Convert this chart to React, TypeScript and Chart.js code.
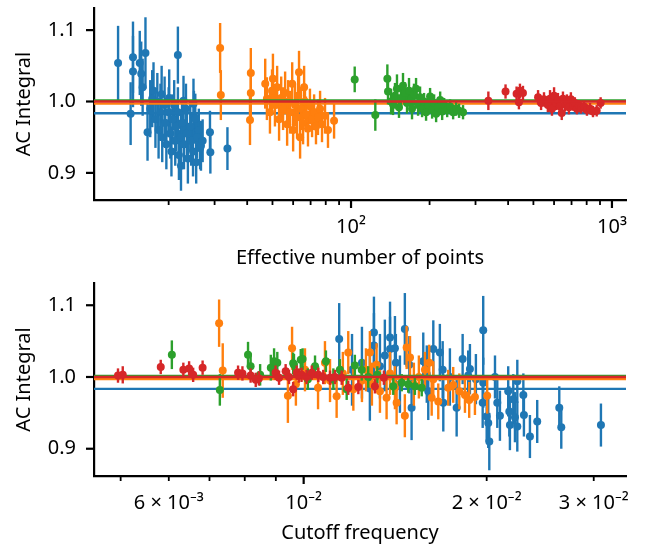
import React, { useEffect, useRef } from "react";
import { Chart, registerables } from "chart.js";
Chart.register(...registerables);

const FONT = "'Noto Sans', sans-serif";
const FONT_SIZE = 20;
const SERIES_COLORS = ["#1f77b4", "#ff7f0e", "#2ca02c", "#d62728"];
// mean level line for each series (blue, orange, green, red)
const MEAN_LEVELS = [0.9835, 0.997, 1.0015, 1.0];

const Y_RANGE = [0.862, 1.131];
const Y_TICKS = [0.9, 1.0, 1.1];
const Y_TICK_LABELS = ["0.9", "1.0", "1.1"];

const TOP_X_RANGE = [10.35, 1132];
const TOP_X_TICKS = [20, 30, 40, 50, 60, 70, 80, 90, 100, 200, 300, 400, 500, 600, 700, 800, 900, 1000];
const TOP_X_TICK_LABELS = ["", "", "", "", "", "", "", "", "10²", "", "", "", "", "", "", "", "", "10³"];
const TOP_X_MAJOR = [100, 1000];

const BOT_X_RANGE = [4.52e-3, 3.39e-2];
const BOT_X_TICKS = [0.005, 0.006, 0.007, 0.008, 0.009, 0.01, 0.02, 0.03];
const BOT_X_TICK_LABELS = ["", "6 × 10⁻³", "", "", "", "10⁻²", "2 × 10⁻²", "3 × 10⁻²"];
const BOT_X_MAJOR = [0.01];

// [effective number of points, AC integral, error]
const topBlue = [
  [12.8, 1.054, 0.052], [14.3, 0.983, 0.044], [14.6, 1.062, 0.05], [14.6, 1.042, 0.05],
  [15.5, 1.054, 0.045], [15.7, 1.039, 0.045], [15.9, 1.02, 0.04], [16.3, 1.068, 0.05],
  [16.6, 0.957, 0.04], [17.0, 0.99, 0.04], [17.3, 1.004, 0.04], [17.5, 1.015, 0.04],
  [17.8, 0.975, 0.04], [18.1, 1.0, 0.04], [18.3, 0.96, 0.04], [18.6, 0.985, 0.04],
  [18.8, 1.01, 0.04], [18.9, 0.95, 0.035], [19.3, 0.995, 0.04], [19.4, 0.97, 0.035],
  [19.6, 0.94, 0.035], [20.0, 0.985, 0.035], [20.1, 1.005, 0.04], [20.3, 0.955, 0.035],
  [20.5, 0.93, 0.035], [20.7, 0.975, 0.035], [21.0, 0.995, 0.035], [21.2, 0.945, 0.035],
  [21.4, 0.965, 0.035], [21.7, 1.065, 0.04], [21.7, 0.985, 0.035], [21.9, 0.925, 0.035],
  [22.3, 0.91, 0.035], [22.3, 0.95, 0.035], [22.5, 0.97, 0.035], [22.8, 1.001, 0.035],
  [22.9, 0.94, 0.035], [23.3, 0.99, 0.035], [23.5, 0.955, 0.035], [23.7, 0.92, 0.035],
  [24.2, 0.965, 0.035], [24.4, 0.945, 0.035], [24.8, 0.93, 0.035], [24.9, 0.997, 0.035],
  [25.0, 0.98, 0.035], [25.3, 0.976, 0.035], [25.5, 0.915, 0.03], [25.7, 0.95, 0.03],
  [26.1, 0.96, 0.03], [26.4, 0.935, 0.03], [26.6, 0.938, 0.035], [27.0, 0.945, 0.03],
  [28.8, 0.957, 0.03], [28.9, 0.929, 0.03], [33.6, 0.934, 0.03],
];
const topOrange = [
  [31.5, 1.075, 0.035], [31.7, 1.009, 0.035], [41.0, 0.974, 0.035], [41.3, 1.04, 0.035],
  [41.3, 1.012, 0.035], [46.9, 1.025, 0.035], [47.6, 1.004, 0.03], [48.9, 0.985, 0.03],
  [49.8, 1.015, 0.03], [50.2, 1.032, 0.035], [51.1, 0.995, 0.03], [52.1, 1.02, 0.03],
  [53.0, 0.975, 0.03], [54.0, 1.005, 0.03], [54.9, 0.99, 0.03], [55.9, 1.012, 0.03],
  [56.9, 0.968, 0.03], [57.4, 1.0, 0.03], [58.4, 0.985, 0.03], [59.5, 1.025, 0.03],
  [60.0, 0.96, 0.03], [61.0, 0.995, 0.03], [62.1, 0.978, 0.03], [62.7, 1.008, 0.03],
  [63.2, 1.041, 0.03], [63.8, 0.95, 0.03], [64.3, 0.99, 0.03], [65.5, 0.97, 0.03],
  [66.1, 1.02, 0.03], [66.6, 1.0, 0.025], [67.2, 0.982, 0.025], [68.4, 0.962, 0.025],
  [69.6, 0.993, 0.025], [70.9, 0.975, 0.025], [72.2, 0.985, 0.025], [73.4, 0.965, 0.025],
  [74.7, 0.978, 0.025], [76.1, 0.99, 0.025], [77.4, 0.968, 0.025], [79.5, 0.98, 0.025],
  [81.6, 0.96, 0.025], [86.1, 0.973, 0.025],
];
const topGreen = [
  [103.3, 1.031, 0.018], [123.9, 0.981, 0.022], [137.8, 1.032, 0.02], [138.6, 1.014, 0.018],
  [142.4, 1.0, 0.018], [144.9, 0.996, 0.015], [147.4, 1.008, 0.018], [150.0, 1.018, 0.02],
  [152.7, 0.992, 0.015], [155.4, 1.005, 0.015], [158.2, 1.022, 0.018], [161.0, 1.012, 0.015],
  [163.9, 0.998, 0.015], [166.8, 1.015, 0.018], [169.8, 1.003, 0.015], [171.3, 0.99, 0.015],
  [174.3, 1.01, 0.015], [177.5, 1.018, 0.015], [180.7, 0.995, 0.015], [183.9, 1.006, 0.015],
  [187.2, 0.99, 0.012], [190.5, 1.0, 0.012], [193.9, 0.985, 0.012], [197.4, 0.995, 0.012],
  [200.9, 1.007, 0.012], [204.5, 0.988, 0.012], [208.2, 0.998, 0.012], [211.9, 0.983, 0.012],
  [215.7, 0.992, 0.012], [219.6, 1.002, 0.012], [223.5, 0.986, 0.012], [227.5, 0.995, 0.01],
  [233.6, 0.988, 0.01], [239.8, 0.993, 0.01], [246.2, 0.985, 0.01], [252.8, 0.99, 0.01],
  [259.5, 0.987, 0.01], [268.7, 0.985, 0.01],
];
const topRed = [
  [336, 1.001, 0.013], [391, 1.014, 0.01], [431, 1.011, 0.01], [440, 0.999, 0.01],
  [444, 1.015, 0.01], [456, 1.012, 0.01], [521, 1.006, 0.01], [535, 0.998, 0.01],
  [549, 1.003, 0.01], [568, 0.995, 0.01], [579, 1.004, 0.012], [589, 0.99, 0.01],
  [600, 1.008, 0.012], [610, 0.998, 0.01], [621, 1.002, 0.01], [632, 0.993, 0.01],
  [642, 0.984, 0.01], [649, 1.004, 0.01], [661, 0.996, 0.01], [672, 1.0, 0.01],
  [684, 0.992, 0.01], [696, 1.003, 0.01], [709, 0.995, 0.008], [721, 0.998, 0.008],
  [734, 0.99, 0.008], [747, 0.994, 0.008], [761, 0.991, 0.008], [781, 0.993, 0.008],
  [802, 0.988, 0.008], [824, 0.99, 0.008], [846, 0.986, 0.008], [874, 0.987, 0.008],
  [905, 0.998, 0.008],
];

// [cutoff frequency, AC integral, error]
const botBlue = [
  [1.144e-2, 1.053, 0.05], [1.201e-2, 1.01, 0.05], [1.247e-2, 1.02, 0.05], [1.285e-2, 0.984, 0.045],
  [1.305e-2, 1.062, 0.05], [1.305e-2, 1.044, 0.045], [1.335e-2, 1.015, 0.045], [1.36e-2, 1.03, 0.05],
  [1.387e-2, 1.055, 0.05], [1.387e-2, 1.039, 0.045], [1.413e-2, 1.04, 0.045], [1.418e-2, 1.02, 0.04],
  [1.44e-2, 0.99, 0.04], [1.467e-2, 1.067, 0.05], [1.492e-2, 1.017, 0.04], [1.505e-2, 0.957, 0.045],
  [1.573e-2, 1.022, 0.04], [1.594e-2, 1.004, 0.04], [1.603e-2, 0.98, 0.04], [1.634e-2, 1.039, 0.04],
  [1.675e-2, 1.034, 0.04], [1.693e-2, 1.01, 0.04], [1.697e-2, 0.964, 0.04], [1.74e-2, 1.0, 0.04],
  [1.785e-2, 0.957, 0.04], [1.826e-2, 1.025, 0.035], [1.865e-2, 1.002, 0.035], [1.877e-2, 1.011, 0.035],
  [1.92e-2, 0.997, 0.035], [1.97e-2, 0.964, 0.035], [1.974e-2, 1.065, 0.048], [1.974e-2, 0.992, 0.035],
  [2.0e-2, 0.945, 0.035], [2.012e-2, 0.936, 0.035], [2.02e-2, 0.91, 0.04], [2.064e-2, 1.0, 0.03],
  [2.082e-2, 0.964, 0.035], [2.103e-2, 0.946, 0.035], [2.17e-2, 0.98, 0.035], [2.179e-2, 0.952, 0.035],
  [2.184e-2, 0.933, 0.035], [2.212e-2, 0.969, 0.035], [2.226e-2, 0.944, 0.035], [2.246e-2, 0.994, 0.03],
  [2.246e-2, 0.931, 0.035], [2.298e-2, 0.975, 0.03], [2.303e-2, 0.947, 0.03], [2.356e-2, 0.917, 0.03],
  [2.422e-2, 0.938, 0.03], [2.633e-2, 0.957, 0.03], [2.653e-2, 0.93, 0.03], [3.083e-2, 0.933, 0.03],
];
const botOrange = [
  [7.26e-3, 1.075, 0.033], [7.36e-3, 1.009, 0.038], [9.42e-3, 0.974, 0.038], [9.57e-3, 1.04, 0.03],
  [9.71e-3, 0.99, 0.03], [1.005e-2, 1.01, 0.03], [1.056e-2, 0.985, 0.03], [1.084e-2, 1.02, 0.03],
  [1.105e-2, 0.995, 0.03], [1.133e-2, 0.973, 0.03], [1.16e-2, 1.005, 0.03], [1.184e-2, 1.034, 0.03],
  [1.207e-2, 0.983, 0.03], [1.247e-2, 0.995, 0.03], [1.266e-2, 1.01, 0.03], [1.285e-2, 1.034, 0.03],
  [1.295e-2, 0.99, 0.03], [1.318e-2, 1.017, 0.03], [1.335e-2, 0.98, 0.03], [1.369e-2, 0.971, 0.03],
  [1.387e-2, 1.005, 0.03], [1.413e-2, 0.985, 0.03], [1.422e-2, 0.964, 0.03], [1.467e-2, 0.946, 0.03],
  [1.477e-2, 1.041, 0.03], [1.496e-2, 1.027, 0.03], [1.518e-2, 0.99, 0.03], [1.547e-2, 1.0, 0.03],
  [1.583e-2, 1.01, 0.025], [1.609e-2, 1.02, 0.025], [1.624e-2, 0.971, 0.025], [1.634e-2, 0.997, 0.025],
  [1.665e-2, 0.966, 0.025], [1.729e-2, 0.985, 0.025], [1.762e-2, 0.989, 0.025], [1.803e-2, 0.98, 0.025],
  [1.842e-2, 0.975, 0.025], [1.872e-2, 0.968, 0.025], [1.913e-2, 0.972, 0.025], [2.004e-2, 0.974, 0.025],
];
const botGreen = [
  [6.07e-3, 1.031, 0.02], [7.28e-3, 0.982, 0.022], [8.1e-3, 1.031, 0.018], [8.18e-3, 1.015, 0.018],
  [8.48e-3, 1.003, 0.015], [8.83e-3, 1.013, 0.018], [8.94e-3, 1.022, 0.018], [9.05e-3, 1.02, 0.015],
  [9.61e-3, 1.019, 0.015], [9.64e-3, 1.017, 0.015], [9.89e-3, 1.024, 0.015], [9.96e-3, 1.025, 0.015],
  [1.016e-2, 0.997, 0.015], [1.044e-2, 1.015, 0.015], [1.088e-2, 1.022, 0.015], [1.119e-2, 0.997, 0.015],
  [1.147e-2, 1.01, 0.015], [1.177e-2, 0.983, 0.015], [1.214e-2, 1.016, 0.015], [1.246e-2, 1.01, 0.015],
  [1.277e-2, 1.0, 0.015], [1.322e-2, 1.003, 0.012], [1.404e-2, 0.987, 0.012], [1.45e-2, 0.992, 0.012],
  [1.486e-2, 0.99, 0.012], [1.524e-2, 0.987, 0.012], [1.564e-2, 0.985, 0.012],
];
const botRed = [
  [4.95e-3, 1.002, 0.01], [5.04e-3, 1.003, 0.012], [5.82e-3, 1.014, 0.01], [6.34e-3, 1.01, 0.01],
  [6.48e-3, 1.012, 0.01], [6.58e-3, 1.003, 0.01], [6.82e-3, 1.013, 0.01], [7.8e-3, 1.006, 0.01],
  [7.93e-3, 1.005, 0.01], [8.18e-3, 1.002, 0.01], [8.34e-3, 0.996, 0.01], [8.44e-3, 0.998, 0.01],
  [8.99e-3, 1.006, 0.01], [9.11e-3, 0.999, 0.01], [9.34e-3, 1.008, 0.01], [9.46e-3, 1.0, 0.01],
  [9.61e-3, 0.983, 0.01], [9.74e-3, 1.006, 0.01], [9.82e-3, 1.002, 0.01], [9.92e-3, 1.003, 0.01],
  [1.011e-2, 1.0, 0.01], [1.031e-2, 1.006, 0.01], [1.057e-2, 1.003, 0.01], [1.077e-2, 1.0, 0.01],
  [1.105e-2, 0.999, 0.01], [1.126e-2, 1.0, 0.01], [1.155e-2, 0.999, 0.01], [1.184e-2, 0.985, 0.01],
  [1.23e-2, 0.986, 0.01], [1.31e-2, 0.987, 0.01], [1.355e-2, 0.999, 0.01],
];

const errorBarPlugin = {
  id: "errorBars",
  beforeDatasetDraw(chart: any, args: any) {
    const ds = chart.data.datasets[args.index];
    if (!ds.errs) return;
    const { ctx, chartArea } = chart;
    const xs = chart.scales.x;
    const ys = chart.scales.y;
    ctx.save();
    ctx.beginPath();
    ctx.rect(chartArea.left, chartArea.top, chartArea.right - chartArea.left, chartArea.bottom - chartArea.top);
    ctx.clip();
    ctx.strokeStyle = ds.borderColor;
    ctx.lineWidth = 2.4;
    ds.data.forEach((p: any, i: number) => {
      const px = xs.getPixelForValue(p.x);
      ctx.beginPath();
      ctx.moveTo(px, ys.getPixelForValue(p.y - ds.errs[i]));
      ctx.lineTo(px, ys.getPixelForValue(p.y + ds.errs[i]));
      ctx.stroke();
    });
    ctx.restore();
  },
};

const tickMarksPlugin = {
  id: "tickMarks",
  afterDraw(chart: any, _a: any, opts: any) {
    const { ctx, chartArea } = chart;
    const xs = chart.scales.x;
    const ys = chart.scales.y;
    ctx.save();
    ctx.strokeStyle = "#000";
    (opts.xTicks as number[]).forEach((v) => {
      const px = xs.getPixelForValue(v);
      const major = (opts.xMajor as number[]).includes(v);
      ctx.lineWidth = major ? 2.2 : 1.8;
      ctx.beginPath();
      ctx.moveTo(px, chartArea.bottom);
      ctx.lineTo(px, chartArea.bottom + (major ? 8 : 5));
      ctx.stroke();
    });
    ctx.lineWidth = 2.2;
    Y_TICKS.forEach((v) => {
      const py = ys.getPixelForValue(v);
      ctx.beginPath();
      ctx.moveTo(chartArea.left, py);
      ctx.lineTo(chartArea.left - 8, py);
      ctx.stroke();
    });
    ctx.restore();
  },
};

function buildConfig(p: any) {
  const datasets: any[] = [];
  const n = p.series.length;
  p.series.forEach((pts: number[][], i: number) => {
    const color = SERIES_COLORS[i];
    datasets.push({
      type: "scatter",
      data: pts.map((d) => ({ x: d[0], y: d[1] })),
      errs: pts.map((d) => d[2]),
      backgroundColor: color,
      borderColor: color,
      pointRadius: 4,
      pointHoverRadius: 4,
      pointBorderWidth: 0,
      order: 2 * (n - i),
    });
    datasets.push({
      type: "line",
      data: [
        { x: p.xRange[0], y: MEAN_LEVELS[i] },
        { x: p.xRange[1], y: MEAN_LEVELS[i] },
      ],
      borderColor: color,
      borderWidth: 2.4,
      pointRadius: 0,
      showLine: true,
      order: 2 * (n - i) - 1,
    });
  });
  return {
    type: "scatter",
    data: { datasets },
    plugins: [errorBarPlugin, tickMarksPlugin],
    options: {
      animation: false,
      responsive: false,
      devicePixelRatio: 1,
      events: [],
      layout: { padding: { left: 0, right: 20, top: p.padTop, bottom: 0 } },
      plugins: {
        legend: { display: false },
        tooltip: { enabled: false },
        tickMarks: { xTicks: p.xTicks, xMajor: p.xMajor },
      },
      scales: {
        x: {
          type: "logarithmic",
          min: p.xRange[0],
          max: p.xRange[1],
          afterBuildTicks: (s: any) => {
            s.ticks = p.xTicks.map((v: number) => ({ value: v }));
          },
          afterFit: (s: any) => {
            s.height = p.xHeight;
            s.paddingLeft = 0;
            s.paddingRight = 0;
          },
          grid: { display: false, drawTicks: true, tickLength: 8 },
          border: { display: true, color: "#000", width: 2.2 },
          ticks: {
            autoSkip: false,
            maxRotation: 0,
            padding: 7,
            color: "#000",
            font: { family: FONT, size: FONT_SIZE },
            callback: (_v: any, i: number) => p.xTickLabels[i],
          },
          title: {
            display: true,
            text: p.xTitle,
            color: "#000",
            font: { family: FONT, size: FONT_SIZE },
            padding: { top: 0, bottom: p.titlePadBottom },
          },
        },
        y: {
          type: "linear",
          min: Y_RANGE[0],
          max: Y_RANGE[1],
          afterBuildTicks: (s: any) => {
            s.ticks = Y_TICKS.map((v) => ({ value: v }));
          },
          afterFit: (s: any) => {
            s.width = 94;
            s.paddingTop = 0;
            s.paddingBottom = 0;
          },
          grid: { display: false, drawTicks: true, tickLength: 8 },
          border: { display: true, color: "#000", width: 2.2 },
          ticks: {
            padding: 10,
            color: "#000",
            font: { family: FONT, size: FONT_SIZE },
            callback: (_v: any, i: number) => Y_TICK_LABELS[i],
          },
          title: {
            display: true,
            text: "AC Integral",
            color: "#000",
            font: { family: FONT, size: FONT_SIZE },
            padding: { top: 12, bottom: 0 },
          },
        },
      },
    },
  };
}

function Panel(props: { height: number; cfg: any }) {
  const ref = useRef<HTMLCanvasElement | null>(null);
  useEffect(() => {
    if (!ref.current) return;
    const chart = new Chart(ref.current, buildConfig(props.cfg) as any);
    return () => chart.destroy();
  }, []);
  return (
    <canvas
      ref={ref}
      width={646}
      height={props.height}
      style={{ display: "block", width: 646, height: props.height }}
    />
  );
}

export default function App() {
  return (
    <div style={{ position: "fixed", left: 0, top: 0, width: 646, height: 545, background: "#fff" }}>
      <Panel
        height={272}
        cfg={{
          series: [topBlue, topOrange, topGreen, topRed],
          xRange: TOP_X_RANGE,
          xTicks: TOP_X_TICKS,
          xTickLabels: TOP_X_TICK_LABELS,
          xMajor: TOP_X_MAJOR,
          xTitle: "Effective number of points",
          xHeight: 72,
          padTop: 8,
          titlePadBottom: 2,
        }}
      />
      <Panel
        height={273}
        cfg={{
          series: [botBlue, botOrange, botGreen, botRed],
          xRange: BOT_X_RANGE,
          xTicks: BOT_X_TICKS,
          xTickLabels: BOT_X_TICK_LABELS,
          xMajor: BOT_X_MAJOR,
          xTitle: "Cutoff frequency",
          xHeight: 69,
          padTop: 11,
          titlePadBottom: 0,
        }}
      />
    </div>
  );
}
